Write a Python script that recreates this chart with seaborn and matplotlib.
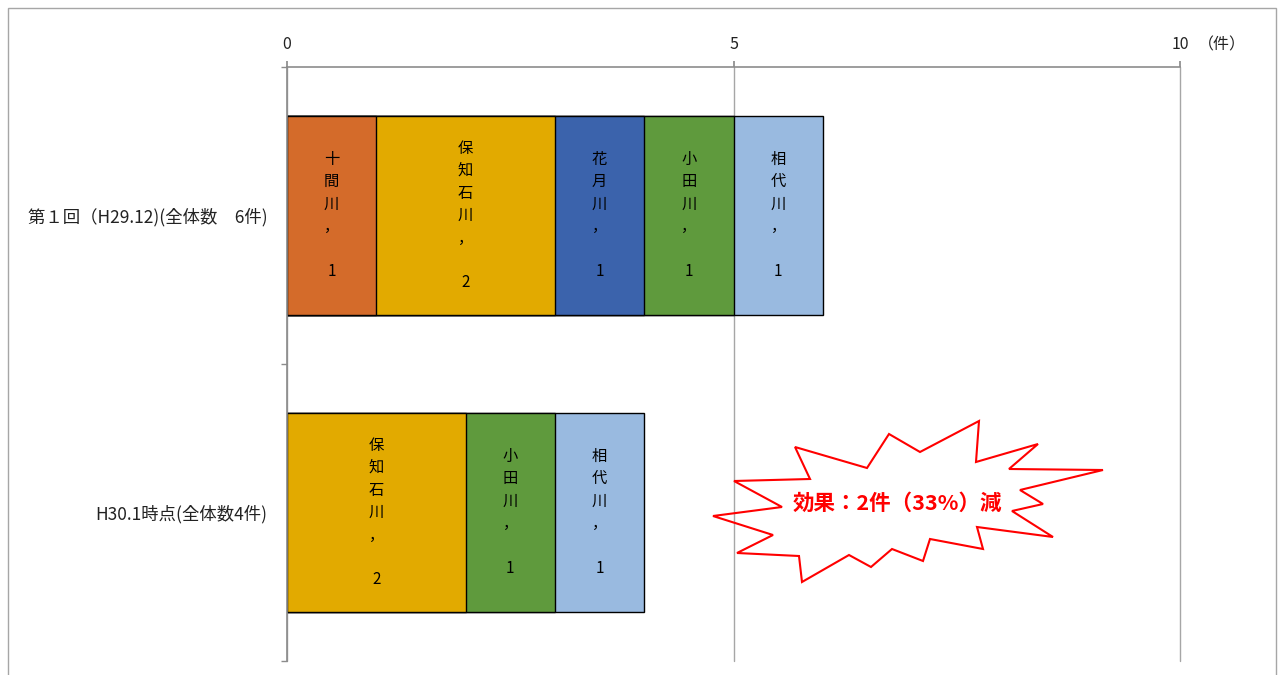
import matplotlib
matplotlib.use("Agg")
import matplotlib.pyplot as plt
import seaborn as sns
import pandas as pd
from matplotlib.patches import Polygon, Rectangle

# data
periods = ["第１回（H29.12)(全体数　6件)", "H30.1時点(全体数4件)"]
rivers = ["十間川", "保知石川", "花月川", "小田川", "相代川"]
counts_first = [1, 2, 1, 1, 1]
counts_second = [0, 2, 0, 1, 1]
river_colors = ["#D46B2A", "#E2AA00", "#3B63AC", "#5F9A3D", "#99BAE0"]
x_ticks = [0, 5, 10]
unit_label = "（件）"
effect_text = "効果：2件（33%）減"

# outline of the starburst callout, figure pixels
burst_px = [(734, 481), (810, 479), (795, 447), (867, 468), (889, 434), (920, 452),
            (979, 421), (976, 462), (1038, 444), (1009, 469), (1103, 470), (1020, 490),
            (1043, 504), (1012, 511), (1053, 537), (977, 527), (983, 549), (930, 539),
            (923, 561), (892, 549), (871, 567), (849, 555), (802, 582), (799, 556),
            (737, 553), (773, 535), (713, 516), (782, 507)]

sns.set_theme(style="white")
plt.rcParams['font.family'] = ['Noto Sans CJK JP', 'DejaVu Sans']

rows = []
for period, counts in zip(periods, [counts_first, counts_second]):
    cum = 0
    for river, c in zip(rivers, counts):
        if c == 0:
            continue
        cum += c
        rows.append({'period': period, 'river': river, 'count': c, 'end': cum})
df = pd.DataFrame(rows)

W, H = 1278, 675
fig = plt.figure(figsize=(W / 100, H / 100), dpi=100)
ax = fig.add_axes([287 / W, 1 - 661 / H, (1180 - 287) / W, (661 - 67) / H])

# stacked bars: draw cumulative totals, last segment first
for river, col in zip(rivers[::-1], river_colors[::-1]):
    sub = df[df['river'] == river]
    if sub.empty:
        continue
    sns.barplot(data=sub, x='end', y='period', order=periods, orient='h',
                color=col, saturation=1, edgecolor='black', linewidth=1,
                width=0.667, errorbar=None, ax=ax)

for _, r in df.iterrows():
    label = "\n".join(list(r['river'])) + "\n，\n\n" + str(r['count'])
    ax.text(r['end'] - r['count'] / 2, periods.index(r['period']), label,
            ha='center', va='center', fontsize=11, linespacing=1.42, color='black')

ax.set_xlim(0, 10)
ax.set_ylim(1.5, -0.5)
ax.set_xlabel("")
ax.set_ylabel("")
ax.xaxis.tick_top()
ax.set_xticks(x_ticks)
ax.set_xticklabels([str(t) for t in x_ticks])
ax.grid(axis='x', color='#a6a6a6', linewidth=1)
ax.grid(axis='y', visible=False)
ax.set_axisbelow(True)
for gl in ax.get_xgridlines():
    gl.set_clip_on(False)

for side in ['right', 'bottom']:
    ax.spines[side].set_visible(False)
for side in ['top', 'left']:
    ax.spines[side].set_color('#8c8c8c')
    ax.spines[side].set_linewidth(1.2)

ax.tick_params(axis='x', top=True, bottom=False, length=4, color='#8c8c8c',
               labelsize=11.5, pad=6, labelcolor='#222222')
ax.set_yticks([-0.5, 0.5, 1.5], minor=True)
ax.tick_params(axis='y', which='major', length=0, pad=14, labelsize=12.5, labelcolor='#222222')
ax.tick_params(axis='y', which='minor', left=True, length=4, color='#8c8c8c')

fig.text(1222 / W, 1 - 45 / H, unit_label, ha='center', va='center', fontsize=11.5, color='#222222')

# outer frame
fig.add_artist(Rectangle((8 / W, -0.05), (1276 - 8) / W, 1.05 - 8 / H,
                         transform=fig.transFigure, fill=False, edgecolor='#a6a6a6', linewidth=1))

burst = Polygon([(x / W, 1 - y / H) for x, y in burst_px], closed=True,
                transform=fig.transFigure, facecolor='none', edgecolor='red', linewidth=1.5)
fig.add_artist(burst)
fig.text(897 / W, 1 - 503 / H, effect_text, ha='center', va='center',
         fontsize=15.5, fontweight='bold', color='red')

fig.savefig("out.png", dpi=100)
